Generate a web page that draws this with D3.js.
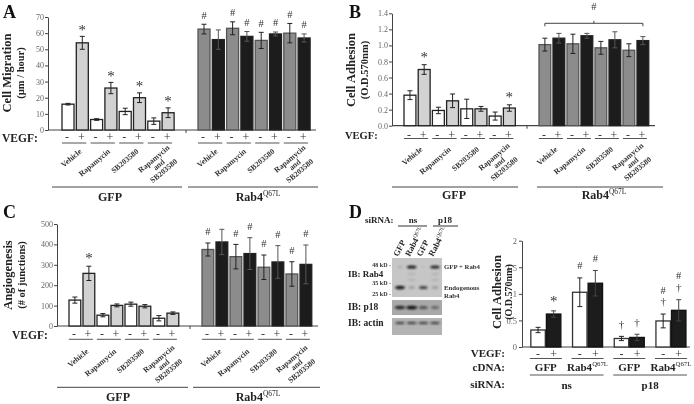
<!DOCTYPE html>
<html><head><meta charset="utf-8">
<script src="https://cdn.jsdelivr.net/npm/d3@7"></script>
<style>
body{margin:0;background:#fff}
svg{display:block;will-change:transform}
text{font-family:"Liberation Serif","Times New Roman",serif}
</style>
</head><body>
<svg id="c" width="694" height="404"></svg>
<script>
// ---------------- DATA ----------------
const treatments = ["Vehicle", "Rapamycin", "SB203580", "Rapamycin\nand\nSB203580"];
const constructs = ["GFP", "Rab4"];           // Rab4 is shown as Rab4^Q67L
const vegfSigns = ["-", "+"];

// Panel A: cell migration (µm / hour); bars ordered Vehicle-,+, Rapa-,+, SB-,+, R+SB-,+
const migTicks = [0, 10, 20, 30, 40, 50, 60, 70];
const migGFP = [16, 54, 6.5, 26, 11.5, 20, 5.5, 10.7];
const migGFPErr = [0.5, 4, 0.5, 3.5, 2, 3, 2, 3];
const migGFPMark = ["", "*", "", "*", "", "*", "", "*"];
const migRab = [62.5, 56, 63, 58, 55.5, 59.5, 60, 57];
const migRabErr = [3, 6, 4, 3, 5, 1.2, 6, 2.5];
const migRabMark = ["#", "", "#", "#", "#", "#", "#", "#"];

// Panel B: cell adhesion (O.D. 570nm)
const adhTicks = [0, 0.2, 0.4, 0.6, 0.8, 1.0, 1.2, 1.4];
const adhGFP = [0.38, 0.70, 0.19, 0.31, 0.21, 0.21, 0.12, 0.22];
const adhGFPErr = [0.055, 0.06, 0.04, 0.085, 0.12, 0.03, 0.05, 0.04];
const adhGFPMark = ["", "*", "", "", "", "", "", "*"];
const adhRab = [1.01, 1.09, 1.02, 1.12, 0.97, 1.07, 0.94, 1.06];
const adhRabErr = [0.08, 0.06, 0.12, 0.03, 0.08, 0.10, 0.08, 0.05];
const adhRabMark = ["", "", "", "", "", "", "", ""];
const adhRabBracketMark = "#";

// Panel C: angiogenesis (# of junctions)
const angTicks = [0, 100, 200, 300, 400, 500];
const angGFP = [127, 258, 53, 101, 107, 97, 38, 63];
const angGFPErr = [15, 35, 8, 7, 10, 8, 13, 6];
const angGFPMark = ["", "*", "", "", "", "", "", ""];
const angRab = [375, 412, 340, 355, 288, 314, 255, 302];
const angRabErr = [32, 62, 60, 78, 60, 80, 60, 95];
const angRabMark = ["#", "", "#", "#", "#", "#", "#", "#"];

// Panel D: cell adhesion with siRNA
const dTicks = [0, 0.5, 1, 1.5, 2];
const dSiRNA = ["ns", "p18"];
const dCDNA = ["GFP", "Rab4", "GFP", "Rab4"];
const dMinus = [0.32, 1.03, 0.16, 0.49];
const dMinusErr = [0.05, 0.27, 0.04, 0.13];
const dPlus = [0.62, 1.20, 0.18, 0.69];
const dPlusErr = [0.06, 0.24, 0.06, 0.20];
const dMinusMarks = [[], ["#"], ["†"], ["†", "#"]];
const dPlusMarks = [["*"], ["#"], ["†"], ["†", "#"]];

// Blot (band intensities 0..1 per lane: GFP ns, Rab4 ns, GFP p18, Rab4 p18)
const blotLanes = ["GFP", "Rab4", "GFP", "Rab4"];
const blotMarkers = ["48 kD", "35 kD", "25 kD"];
const bandGFPRab4 = [0.15, 0.95, 0.05, 0.9];
const bandEndoRab4 = [0.95, 0.25, 0.75, 0.25];
const bandP18 = [0.85, 1.0, 0.6, 0.45];
const bandActin = [0.8, 0.8, 0.8, 0.8];

// ---------------- DRAWING ----------------
const svg = d3.select("#c");
const defs = svg.append("defs");
defs.append("filter").attr("id", "blur").attr("x", "-50%").attr("y", "-100%").attr("width", "200%").attr("height", "300%")
  .append("feGaussianBlur").attr("stdDeviation", "1.1 0.8");

function rabText(sel, x, y, fs, anchor) {
  const t = sel.append("text").attr("x", x).attr("y", y).attr("font-size", fs)
    .attr("font-weight", "bold").attr("text-anchor", anchor || "middle").attr("fill", "#222");
  t.append("tspan").text("Rab4");
  t.append("tspan").attr("font-size", fs * 0.62).attr("font-weight", "normal").attr("dy", -fs * 0.4).text("Q67L");
  return t;
}

function mark(g, sym, x, yc) {
  // yc: visual center of glyph
  let fs, off;
  if (sym === "*") { fs = 15; off = 0.5; }
  else if (sym === "#") { fs = 10.5; off = 0.33; }
  else { fs = 11; off = 0.3; }
  g.append("text").attr("x", x).attr("y", yc + fs * off).attr("text-anchor", "middle")
    .attr("font-family", '"Liberation Serif",serif')
    .attr("font-size", fs).attr("fill", "#333").text(sym + "\uFE0E");
}

function barPanel(p) {
  const g = svg.append("g");
  const y = d3.scaleLinear().domain([p.ticks[0], p.ticks[p.ticks.length - 1]]).range(p.yRange);
  const xs = p.firsts.map((f, i) => d3.scaleBand().domain(d3.range(8))
    .range([f - p.steps[i] * 0.08, f - p.steps[i] * 0.08 + 8 * p.steps[i]])
    .paddingInner(0.16).paddingOuter(0.08));

  // y axis
  const ax = g.append("g").attr("transform", `translate(${p.axisX},0)`)
    .call(d3.axisLeft(y).tickValues(p.ticks).tickSize(3).tickSizeOuter(0).tickFormat(p.fmt));
  ax.select(".domain").attr("stroke", "#444");
  ax.selectAll(".tick line").attr("stroke", "#444");
  ax.selectAll(".tick text").attr("fill", "#666").attr("font-size", 8)
    .attr("font-family", '"Liberation Serif",serif').attr("x", -4);

  // x axis line
  g.append("line").attr("x1", p.axisX).attr("x2", p.axisEnd).attr("y1", y(0)).attr("y2", y(0))
    .attr("stroke", "#444").attr("stroke-width", 1.2);
  g.append("line").attr("x1", p.midTick).attr("x2", p.midTick).attr("y1", y(0)).attr("y2", y(0) + 3)
    .attr("stroke", "#444");

  const fills = [["#ffffff", "#d2d2d2"], ["#8c8c8c", "#1c1c1c"]];
  p.series.forEach((s, gi) => {
    const x = xs[gi];
    const bw = x.bandwidth();
    const gg = g.append("g");
    gg.selectAll("rect").data(s.vals).join("rect")
      .attr("x", (d, i) => x(i)).attr("width", bw)
      .attr("y", d => y(d)).attr("height", d => y(0) - y(d))
      .attr("fill", (d, i) => fills[gi][i % 2])
      .attr("stroke", (d, i) => gi === 1 && i % 2 === 0 ? "#555" : "#222").attr("stroke-width", 1.3);
    // error bars
    s.vals.forEach((v, i) => {
      const cx = x(i) + bw / 2, e = s.err[i];
      const col = (gi === 1 && i % 2 === 1) ? "#555" : "#222";
      const eg = gg.append("g").attr("stroke", col).attr("stroke-width", 1);
      eg.append("line").attr("x1", cx).attr("x2", cx).attr("y1", y(v + e)).attr("y2", y(Math.max(0, v - e)));
      eg.append("line").attr("x1", cx - 2.5).attr("x2", cx + 2.5).attr("y1", y(v + e)).attr("y2", y(v + e));
      eg.append("line").attr("x1", cx - 2.5).attr("x2", cx + 2.5).attr("y1", y(Math.max(0, v - e))).attr("y2", y(Math.max(0, v - e)));
      if (s.marks[i]) mark(gg, s.marks[i], cx, y(v + e) - p.markOff);
    });
    // VEGF signs + underline per pair
    for (let k = 0; k < 4; k++) {
      const xa = x(2 * k) + bw / 2, xb = x(2 * k + 1) + bw / 2;
      vegfSigns.forEach((sg, j) => {
        g.append("text").attr("x", j ? xb - 1 : xa - 1).attr("y", p.vegfY + 4).attr("text-anchor", "middle")
          .attr("font-size", 12).attr("fill", "#333").text(sg);
      });
      g.append("line").attr("x1", xa - 6).attr("x2", xb + 4).attr("y1", p.ulY).attr("y2", p.ulY)
        .attr("stroke", "#555").attr("stroke-width", 1);
      // rotated treatment label
      const cx = (x(2 * k) + x(2 * k + 1) + bw) / 2 + p.labDx;
      const lines = treatments[k].split("\n");
      const t = g.append("text").attr("transform", `translate(${cx},${p.labY}) rotate(-40)`)
        .attr("font-size", 7.8).attr("font-weight", "bold").attr("fill", "#333");
      if (lines.length === 1) {
        t.attr("text-anchor", "end").attr("y", 3).text(lines[0]);
      } else {
        t.attr("text-anchor", "middle");
        lines.forEach((ln, li) => t.append("tspan").attr("x", -15).attr("y", 1.5 + li * 7.8).text(ln));
      }
    }
    // group line + label
    g.append("line").attr("x1", p.gLines[gi][0]).attr("x2", p.gLines[gi][1]).attr("y1", p.gLineY).attr("y2", p.gLineY)
      .attr("stroke", "#444").attr("stroke-width", 1);
    if (gi === 0) {
      g.append("text").attr("x", p.gLabX[0]).attr("y", p.gLabY).attr("text-anchor", "middle")
        .attr("font-size", 12).attr("font-weight", "bold").attr("fill", "#222").text(constructs[0]);
    } else {
      rabText(g, p.gLabX[1], p.gLabY, 12, "middle");
    }
  });

  // VEGF label
  g.append("text").attr("x", p.vegfX).attr("y", p.vegfY + 4.5).attr("font-size", p.vegfFs).attr("font-weight", "bold")
    .attr("fill", "#222").text("VEGF:");
  // y label
  const yl = g.append("g").attr("transform", `translate(${p.ylX},${p.ylY}) rotate(-90)`);
  yl.append("text").attr("text-anchor", "middle").attr("y", 0).attr("font-size", 12.5).attr("font-weight", "bold")
    .attr("fill", "#222").text(p.ylab[0]);
  yl.append("text").attr("text-anchor", "middle").attr("y", 13).attr("font-size", 10.5).attr("font-weight", "bold")
    .attr("fill", "#222").text(p.ylab[1]);
  // panel letter
  g.append("text").attr("x", p.letter[1]).attr("y", p.letter[2]).attr("font-size", 18).attr("font-weight", "bold")
    .attr("fill", "#111").text(p.letter[0]);
  return { g, y, xs };
}

// Panel A
barPanel({
  ticks: migTicks, fmt: d3.format("d"), yRange: [130, 17], axisX: 48, axisEnd: 316, midTick: 186,
  firsts: [62, 198], steps: [14.3, 14.3], markOff: 9,
  series: [{ vals: migGFP, err: migGFPErr, marks: migGFPMark }, { vals: migRab, err: migRabErr, marks: migRabMark }],
  vegfY: 137, ulY: 143, vegfX: 2, vegfFs: 11.5, labY: 150, labDx: 5,
  gLineY: 187, gLines: [[52, 182], [188, 318]], gLabY: 201, gLabX: [110, 258],
  ylX: 11, ylY: 73, ylab: ["Cell Migration", "(µm / hour)"], letter: ["A", 3, 18]
});

// Panel B
const pB = barPanel({
  ticks: adhTicks, fmt: d3.format(".1f"), yRange: [125.7, 13.3], axisX: 392, axisEnd: 655, midTick: 527,
  firsts: [404, 539], steps: [14.2, 14.0], markOff: 10,
  series: [{ vals: adhGFP, err: adhGFPErr, marks: adhGFPMark }, { vals: adhRab, err: adhRabErr, marks: adhRabMark }],
  vegfY: 134.5, ulY: 138.5, vegfX: 345, vegfFs: 10.5, labY: 148, labDx: 4,
  gLineY: 187, gLines: [[392, 518], [537, 663]], gLabY: 199, gLabX: [454, 604],
  ylX: 355, ylY: 70, ylab: ["Cell Adhesion", "(O.D.570nm)"], letter: ["B", 349, 18]
});
// bracket over Rab4 group in B
{
  const x = pB.xs[1], bw = x.bandwidth();
  const x1 = x(0) + bw / 2, x2 = x(7) + bw / 2, by = 23.3;
  const bg = svg.append("g").attr("stroke", "#444").attr("stroke-width", 1).attr("fill", "none");
  bg.append("path").attr("d", `M${x1},${by + 3}V${by}H${x2}V${by + 3}M${(x1 + x2) / 2},${by}V${by - 2.5}`);
  mark(svg, adhRabBracketMark, (x1 + x2) / 2, 7);
}

// Panel C
barPanel({
  ticks: angTicks, fmt: d3.format("d"), yRange: [326, 224], axisX: 57, axisEnd: 318, midTick: 190,
  firsts: [69, 202], steps: [14.0, 14.0], markOff: 11,
  series: [{ vals: angGFP, err: angGFPErr, marks: angGFPMark }, { vals: angRab, err: angRabErr, marks: angRabMark }],
  vegfY: 334, ulY: 339.3, vegfX: 12, vegfFs: 11.5, labY: 350, labDx: 5,
  gLineY: 387.3, gLines: [[57, 188], [193, 320]], gLabY: 401, gLabX: [118, 258],
  ylX: 12, ylY: 275, ylab: ["Angiogenesis", "(# of junctions)"], letter: ["C", 3, 218]
});

// ---------------- Panel D ----------------
{
  const g = svg.append("g");
  g.append("text").attr("x", 349).attr("y", 218).attr("font-size", 18).attr("font-weight", "bold").attr("fill", "#111").text("D");
  // siRNA header over blot
  g.append("text").attr("x", 365).attr("y", 223).attr("font-size", 9).attr("font-weight", "bold").attr("fill", "#222").text("siRNA:");
  const hdr = [[413, 398, 427], [445, 433, 458]];
  dSiRNA.forEach((s, i) => {
    g.append("text").attr("x", hdr[i][0]).attr("y", 223).attr("text-anchor", "middle").attr("font-size", 9)
      .attr("font-weight", "bold").attr("fill", "#222").text(s);
    g.append("line").attr("x1", hdr[i][1]).attr("x2", hdr[i][2]).attr("y1", 226).attr("y2", 226).attr("stroke", "#333");
  });
  // blot
  const lane = d3.scalePoint().domain(d3.range(4)).range([400, 435]);
  const blots = [[258, 297, "#c6c6c6"], [300, 315, "#a9a9a9"], [318, 335, "#b3b3b3"]];
  blots.forEach(b => g.append("rect").attr("x", 392).attr("y", b[0]).attr("width", 50).attr("height", b[1] - b[0]).attr("fill", b[2]));
  const bandSets = [[bandGFPRab4, 267, 10, 3.2], [bandEndoRab4, 287.5, 10, 3.6], [bandP18, 307.5, 11, 3.6], [bandActin, 323, 11, 2.2]];
  bandSets.forEach(([vals, by, w, h]) => {
    vals.forEach((v, i) => {
      g.append("ellipse").attr("cx", lane(i)).attr("cy", by).attr("rx", w / 2 * (0.5 + 0.5 * v)).attr("ry", h / 2 * (0.6 + 0.4 * v))
        .attr("fill", "#111").attr("opacity", v).attr("filter", "url(#blur)");
    });
  });
  // faint extra bands in Rab4 lanes
  [1, 3].forEach(i => [274, 280].forEach(by => g.append("ellipse").attr("cx", lane(i)).attr("cy", by).attr("rx", 4).attr("ry", 0.8)
    .attr("fill", "#555").attr("opacity", 0.25).attr("filter", "url(#blur)")));
  // lane labels
  blotLanes.forEach((l, i) => {
    const tr = `translate(${lane(i) - 2},257) rotate(-62)`;
    if (l === "GFP") {
      g.append("text").attr("transform", tr).attr("font-size", 8.5)
        .attr("font-weight", "bold").attr("fill", "#222").text(l);
    } else {
      rabText(g, 0, 0, 8.5, "start").attr("transform", tr);
    }
  });
  // markers
  [[blotMarkers[0], 266.5], [blotMarkers[1], 284.5], [blotMarkers[2], 295.5]].forEach(([m, yy]) =>
    g.append("text").attr("x", 391).attr("y", yy).attr("text-anchor", "end").attr("font-size", 6)
      .attr("font-weight", "bold").attr("fill", "#333").text(m + " -"));
  [["IB: Rab4", 277, 9], ["IB: p18", 310, 9.5], ["IB: actin", 326, 9.5]].forEach(([t, yy, fs]) =>
    g.append("text").attr("x", 348).attr("y", yy).attr("font-size", fs).attr("font-weight", "bold").attr("fill", "#222").text(t));
  [["GFP + Rab4", 269], ["Endogenous", 289.5], ["Rab4", 297.5]].forEach(([t, yy]) =>
    g.append("text").attr("x", 444).attr("y", yy).attr("font-size", 6.8).attr("font-weight", "bold").attr("fill", "#333").text(t));

  // bar chart
  const y = d3.scaleLinear().domain([0, 2]).range([347, 240.7]);
  const px = d3.scaleBand().domain(d3.range(4)).range([525, 525 + 4 * 41.7]).paddingInner(0.28).paddingOuter(0.14);
  const sx = d3.scaleBand().domain(vegfSigns).range([0, px.bandwidth()]).paddingInner(0.07);
  const bw = sx.bandwidth();
  const ax = g.append("g").attr("transform", "translate(522,0)")
    .call(d3.axisLeft(y).tickValues(dTicks).tickSize(3).tickSizeOuter(0).tickFormat(d3.format("")));
  ax.select(".domain").attr("stroke", "#444");
  ax.selectAll(".tick line").attr("stroke", "#444");
  ax.selectAll(".tick text").attr("fill", "#666").attr("font-size", 8.5).attr("font-family", '"Liberation Serif",serif').attr("x", -5);
  g.append("line").attr("x1", 522).attr("x2", 690).attr("y1", y(0)).attr("y2", y(0)).attr("stroke", "#444").attr("stroke-width", 1.2);

  const rows = [[dMinus, dMinusErr, dMinusMarks, "#ffffff"], [dPlus, dPlusErr, dPlusMarks, "#1c1c1c"]];
  rows.forEach(([vals, errs, marks, fill], j) => {
    vals.forEach((v, i) => {
      const x0 = px(i) + sx(vegfSigns[j]), cx = x0 + bw / 2, e = errs[i];
      g.append("rect").attr("x", x0).attr("y", y(v)).attr("width", bw).attr("height", y(0) - y(v))
        .attr("fill", fill).attr("stroke", j ? "#111" : "#333").attr("stroke-width", 1.3);
      const eg = g.append("g").attr("stroke", j ? "#444" : "#222").attr("stroke-width", 1);
      eg.append("line").attr("x1", cx).attr("x2", cx).attr("y1", y(v + e)).attr("y2", y(v - e));
      eg.append("line").attr("x1", cx - 2.5).attr("x2", cx + 2.5).attr("y1", y(v + e)).attr("y2", y(v + e));
      eg.append("line").attr("x1", cx - 2.5).attr("x2", cx + 2.5).attr("y1", y(v - e)).attr("y2", y(v - e));
      marks[i].forEach((m, mi) => mark(g, m, cx, y(v + e) - 12 - mi * 12));
    });
  });
  // bottom labels
  for (let i = 0; i < 4; i++) {
    vegfSigns.forEach(s => g.append("text").attr("x", px(i) + sx(s) + bw / 2).attr("y", 358).attr("text-anchor", "middle")
      .attr("font-size", 12).attr("fill", "#333").text(s));
    g.append("line").attr("x1", px(i) - 1).attr("x2", px(i) + px.bandwidth() + 1).attr("y1", 358.5).attr("y2", 358.5).attr("stroke", "#555");
    const cxp = px(i) + px.bandwidth() / 2;
    if (dCDNA[i] === "GFP") g.append("text").attr("x", cxp).attr("y", 370.5).attr("text-anchor", "middle").attr("font-size", 11)
      .attr("font-weight", "bold").attr("fill", "#222").text("GFP");
    else rabText(g, cxp, 370.5, 11, "middle");
  }
  dSiRNA.forEach((s, k) => {
    const a = px(2 * k) - 1, b = px(2 * k + 1) + px.bandwidth() + 1;
    g.append("line").attr("x1", a).attr("x2", b).attr("y1", 375).attr("y2", 375).attr("stroke", "#555");
    g.append("text").attr("x", (a + b) / 2).attr("y", 389).attr("text-anchor", "middle").attr("font-size", 11)
      .attr("font-weight", "bold").attr("fill", "#222").text(s);
  });
  [["VEGF:", 357], ["cDNA:", 370.5], ["siRNA:", 388]].forEach(([t, yy]) =>
    g.append("text").attr("x", 505).attr("y", yy).attr("text-anchor", "end").attr("font-size", 11).attr("font-weight", "bold").attr("fill", "#222").text(t));
  const yl = g.append("g").attr("transform", "translate(501,292) rotate(-90)");
  yl.append("text").attr("text-anchor", "middle").attr("font-size", 12.5).attr("font-weight", "bold").attr("fill", "#222").text("Cell Adhesion");
  yl.append("text").attr("text-anchor", "middle").attr("y", 11).attr("font-size", 10).attr("font-weight", "bold").attr("fill", "#222").text("(O.D.570nm)");
}
</script>
</body></html>
